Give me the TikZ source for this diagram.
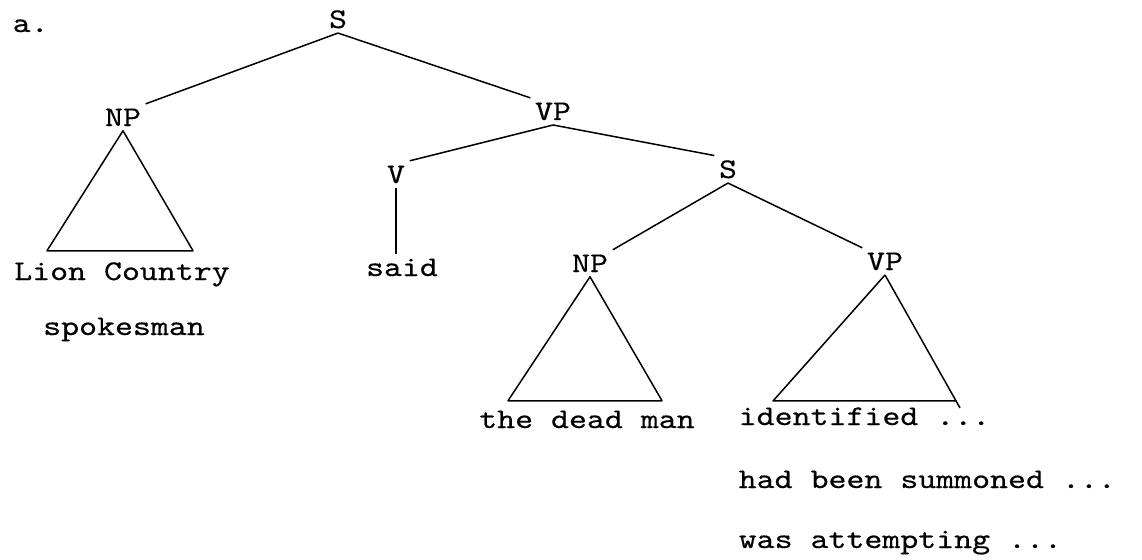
\documentclass[tikz,border=0pt]{standalone}
\usepackage{fontspec}
\newfontfamily\typewriter[FakeStretch=1.2,FakeBold=0.4]{lmmono10-regular.otf}
\usetikzlibrary{calc}
\tikzset{every node/.style={font=\typewriter\fontsize{28.5}{34}\selectfont,inner sep=4pt},
  cat/.style={anchor=base},
  word/.style={anchor=base},
  gloss/.style={anchor=base west}}

\begin{document}
\begin{tikzpicture}[x=1pt,y=-1pt,line width=1.5pt,line join=round]
\path[use as bounding box] (0,0) rectangle (1142,559);
\node[gloss] (lbl) at (8,32) {a.};
% categories
\node[cat] (s0) at (338,28) {S};
\node[cat] (np1) at (123,126) {NP};
\node[cat] (vp1) at (553,120) {VP};
\node[cat] (v) at (396,183) {V};
\node[cat] (s1) at (728,178) {S};
\node[cat] (np2) at (590,272) {NP};
\node[cat] (vp2) at (885,270) {VP};
% words
\node[word] (lion) at (122,280) {Lion Country};
\node[word] (spokes) at (124,335) {spokesman};
\node[word] (said) at (402,276) {said};
\node[word] (dead) at (587,428) {the dead man};
\node[gloss] (ident) at (734,425) {identified ...};
\node[gloss] (summ) at (734,488) {had been summoned ...};
\node[gloss] (att) at (734,548) {was attempting ...};
% branches
\draw (s0.south)--(np1.north east) (s0.south)--(vp1.north west);
\draw (vp1.south)--(v.north east) (vp1.south)--(s1.north west);
\draw (s1.south)--(np2.north east) (s1.south)--(vp2.north west);
\draw (v.south)--(v.south |- said.north);
% roofs
\draw (np1.south)--++(-76,120)--++(146,0)--cycle;
\draw (np2.south)--++(-82,124)--++(154,0)--cycle;
\draw (vp2.south)--++(-112,126)--++(182,0) (vp2.south)--++(75,133);
\end{tikzpicture}
\end{document}
